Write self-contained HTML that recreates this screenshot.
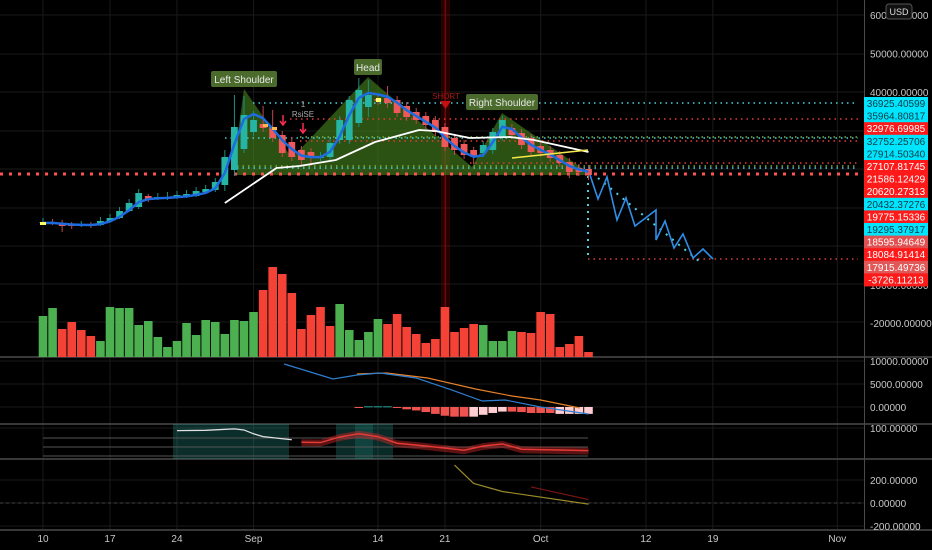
<!DOCTYPE html>
<html><head><meta charset="utf-8"><style>
html,body{margin:0;padding:0;background:#000;}
svg{display:block;font-family:"Liberation Sans",sans-serif;}
</style></head><body>
<svg id="chart" width="932" height="550" viewBox="0 0 932 550">
<rect width="932" height="550" fill="#000"/>
<g id="grid"></g>
<g id="static">
  <rect x="441" y="0" width="9" height="358" fill="rgba(180,0,0,0.22)"/>
  <line x1="445.5" y1="0" x2="445.5" y2="358" stroke="rgba(200,0,0,0.5)" stroke-width="1"/>
  <polygon points="237,170 237,140 244,89 292,158 368,77 472,167 502,113 589,173 589,175 237,175" fill="rgba(70,130,30,0.62)"/>
</g>
<g id="levels"></g>
<g id="candles"></g>
<g id="lines"></g>
<g id="vol"></g>
<g id="macd"></g>
<g id="rsi"></g>
<g id="osc"></g>
<g id="annot">
  <rect x="211" y="71" width="66" height="16" rx="2" fill="#4a6b2c"/>
  <text x="244" y="83" fill="#e8e8e8" font-size="10" text-anchor="middle">Left Shoulder</text>
  <rect x="354" y="59" width="28" height="16" rx="2" fill="#4a6b2c"/>
  <text x="368" y="71" fill="#e8e8e8" font-size="10" text-anchor="middle">Head</text>
  <rect x="466" y="94" width="72" height="16" rx="2" fill="#4a6b2c"/>
  <text x="502" y="106" fill="#e8e8e8" font-size="10" text-anchor="middle">Right Shoulder</text>
  <text x="446" y="99" fill="#a01818" font-size="8" text-anchor="middle">SHORT</text>
  <polygon points="440,101 451,101 445.5,109" fill="#c41010"/>
  <text x="303" y="107" fill="#aaa" font-size="8" text-anchor="middle">1</text>
  <text x="303" y="117" fill="#aaa" font-size="8" text-anchor="middle">RsiSE</text>
  <path d="M283,115 V124 M280,121 L283,125 L286,121" stroke="#ff2a55" stroke-width="1.5" fill="none"/>
  <path d="M303,123 V132 M300,129 L303,133 L306,129" stroke="#ff2a55" stroke-width="1.5" fill="none"/>
  <rect x="376" y="98" width="5" height="4" fill="#ffff66"/>
  <rect x="40" y="222" width="6" height="3" fill="#ffff66"/>
  <rect x="263" y="124" width="5" height="3" fill="#ffb74d"/>
  <rect x="272" y="127" width="5" height="3" fill="#ffb74d"/>
</g>
<g id="axis"></g>
<g id="xaxis"></g>
</svg>
<script>
// ---- data ----
const dates = ["10","17","24","Sep","14","21","Oct","12","19","Nov"];
const dateIdx = [0,7,14,22,35,42,52,63,70,83];
const opens = [5980,6240,5980,5460,5200,5460,5460,6500,7280,9100,10140,13000,12480,12480,12480,12740,13000,14040,14560,15860,19760,25220,29640,31720,30940,28860,27040,24960,24440,22880,23140,27560,27560,31980,36140,38220,38480,37960,36400,34840,33800,32760,30940,28080,26520,24960,24180,24960,28340,30680,29380,28080,26000,24960,23660,21840,20280,20020];
const closes = [6240,5980,5200,5200,5460,5200,6500,7280,9100,11180,13780,11960,12740,12740,13260,13520,14300,14820,16640,23140,30940,34060,32760,30680,28080,24180,23140,22360,22880,23140,26780,32760,37960,40560,39260,37700,37180,34580,33540,32760,31460,29640,25740,24960,23660,23140,26260,29640,32760,28860,26260,24440,24180,22880,21580,19240,19240,18460];
const highs = [7280,7020,6760,6240,6500,6240,7540,8320,10140,12220,14820,13520,13780,14040,14300,14560,15340,15860,17680,24960,39260,39000,35100,36400,35360,29900,28340,26000,25480,24440,27820,33800,39000,43680,43160,39260,41600,39000,37440,35880,34840,33800,31980,29120,27560,25740,27300,30680,33800,31720,30420,29120,27040,26000,24700,22880,21320,21060];
const lows = [5460,5460,3640,4420,4940,4680,5200,6240,7020,8840,9620,11440,11960,11960,12220,12480,12740,13520,14040,14300,18200,24180,28600,29640,27040,23140,22100,21060,20800,22100,22100,26520,26520,30940,33540,36660,35880,33540,32500,31720,30420,28600,24700,23660,22620,21320,23140,23920,27300,27820,25220,23400,23140,21840,20540,17680,18200,17160];
const emaVals = [5980,6000,5800,5600,5500,5450,5700,6400,7600,9300,11400,12200,12400,12500,12700,12900,13300,13800,15000,19000,26500,33000,34300,33200,30500,27500,25200,23500,23100,23100,24500,28500,34000,38500,39800,39400,38800,37300,35300,33800,32300,30800,28200,26000,24300,23200,23600,27000,31000,30400,28200,26300,25000,23800,22300,20800,19900,19300];
const smaVals = [11180,20280,20800,22360,27040,30160,29900,28080,28340,27560,24440];
const smaIdx = [19,24.4,26.8,30.6,34.7,39.3,41,44.6,48.8,51.3,57];
const volume = [41,49,28,35,27,21,16,50,49,49,32,36,20,10,16,34,22,37,35,23,37,36,45,67,90,83,64,28,42,50,31,53,27,17,25,38,33,43,30,23,14,18,50,25,29,33,32,16,16,26,25,24,45,43,10,13,21,5];
const volUp = [1,1,0,0,0,0,1,1,1,1,1,1,1,1,1,1,1,1,1,1,1,1,1,0,0,0,0,0,0,0,0,1,1,1,1,1,0,0,0,0,0,0,0,0,0,0,1,1,1,1,0,0,0,0,0,0,0,0];
const macdLine = [9350,6090,6960,7390,6300,3700,1300,1520,0,-1520];
const macdLineIdx = [25.2,30.3,32.8,35.2,39,42.7,45.9,48.3,52,57];
const macdOrange = [7170,7390,6300,3910,2390,1520,-220];
const macdOrangeIdx = [32.8,35.9,40.2,45.2,49,52,56.1];
const macdHist = [-150,150,150,150,-150,-500,-750,-1100,-1500,-1900,-2100,-2100,-2100,-1700,-1300,-1000,-1000,-1100,-1300,-1300,-1300,-1500,-1500,-1500,-1500];
const macdHistPink = [0,0,0,0,0,0,0,0,0,0,0,0,1,1,1,1,0,0,0,0,0,1,1,1,1];
const rsiWhite = [81,82,86,83,72,64,55];
const rsiWhiteIdx = [14,17,20,21,22,23,26];
const rsiRed = [48,47,63,72,64,45,37,25,37,43,28,24];
const rsiRedIdx = [27,29,31,33,35,37,40,44,46,48,50,57];
const oscYellow = [330,170,100,-10];
const oscYellowIdx = [43,45,48,57];
const oscRed = [140,30];
const oscRedIdx = [51,57];
const priceTicks = [60000,50000,40000,-20000];
const levelVals = [36925.40599,35964.80817,32976.69985,32752.25706,27914.50340,27107.81745,21586.12429,20620.27313,20432.37276,19775.15336,19295.37917,18595.94649,18084.91414,17915.49736,-3726.11213];
const levelColors = ["#00e5ff","#00e5ff","#ff1a1a","#00e5ff","#00e5ff","#ff1a1a","#ff1a1a","#ff1a1a","#00e5ff","#ff1a1a","#00e5ff","#e05050","#ff1a1a","#e05858","#ff1a1a"];

// ---- helpers / scales ----
const NS="http://www.w3.org/2000/svg";
function el(tag, attrs, parent){const e=document.createElementNS(NS,tag);for(const k in attrs)e.setAttribute(k,attrs[k]);parent.appendChild(e);return e;}
const xS = i => 43 + i*9.57;
const yP = v => 246 - v/260;
const yVol = h => 357 - h;
const yMacd = v => 407 - v*0.0046;
const yRsi = v => 459 - v*0.35;
const yOsc = v => 503 - v*0.115;

// grid
const grid=document.getElementById('grid');
dateIdx.forEach((d,i)=>{const g=el('line',{x1:xS(d),x2:xS(d),y1:0,y2:530,stroke:'#1a1a1a','stroke-width':1},grid);

});
[15,54,92,131,169,208,246,284,322,361,384,407,428,480,503,526].forEach(y=>{const g=el('line',{x1:0,x2:864,y1:y,y2:y,stroke:'#1a1a1a','stroke-width':1},grid);

});
[357,424,459,530].forEach(y=>{const g=el('line',{x1:0,x2:932,y1:y,y2:y,stroke:'#4a4a4a','stroke-width':1.5},grid);

});
{const g=el('line',{x1:864.5,x2:864.5,y1:0,y2:530,stroke:'#4a4a4a','stroke-width':1},grid);

}

// level lines
const lv=document.getElementById('levels');
const lvl=[[103,253,'#4dd0e1'],[119,290,'#e53935'],[138,225,'#4dd0e1'],[141,300,'#e53935'],[137,300,'#7cb342'],[163,470,'#e53935'],[166,237,'#7cb342'],[168,237,'#4dd0e1']];
lvl.forEach(a=>{const l=el('line',{x1:a[1],x2:858,y1:a[0],y2:a[0],stroke:a[2],'stroke-width':1.5,'stroke-dasharray':'1.5 4'},lv);

});
{const l=el('line',{x1:0,x2:858,y1:174,y2:174,stroke:'#ff5252','stroke-width':3,'stroke-dasharray':'3 6'},lv);

}
{const l=el('line',{x1:588,x2:858,y1:259,y2:259,stroke:'#e53935','stroke-width':1.5,'stroke-dasharray':'1.5 4'},lv);

}
{const l=el('line',{x1:588,x2:588,y1:176,y2:259,stroke:'#4dd0e1','stroke-width':2,'stroke-dasharray':'2 5'},lv);

}
{const l=el('line',{x1:598,x2:700,y1:178,y2:262,stroke:'#4dd0e1','stroke-width':2,'stroke-dasharray':'2 6'},lv);

}

// candles
const cg=document.getElementById('candles');
opens.forEach((o,i)=>{const c=closes[i];const up=c>=o;const col=up?'#26b5a5':'#f0595a';const x=xS(i);
const w=el('line',{x1:x,x2:x,y1:yP(highs[i]),y2:yP(lows[i]),stroke:up?'#1f8f83':'#c0484a','stroke-width':1},cg);


const t=Math.min(yP(o),yP(c));const h=Math.max(1,Math.abs(yP(o)-yP(c)));
const b=el('rect',{x:x-3.4,y:t,width:6.8,height:h,fill:col},cg);

});

// lines
const lg=document.getElementById('lines');
const emaPts=emaVals.map((v,i)=>xS(i)+','+yP(v)).join(' ');
{const p=el('polyline',{points:emaPts,fill:'none',stroke:'#1e6be0','stroke-width':2.5,'stroke-linejoin':'round'},lg);

}
{const p=el('polyline',{points:smaIdx.map((d,i)=>xS(d)+','+yP(smaVals[i])).join(' '),fill:'none',stroke:'#ffffff','stroke-width':1.8,'stroke-linejoin':'round'},lg);

}
{const p=el('line',{x1:512,y1:158,x2:588,y2:150,stroke:'#f5e94a','stroke-width':1.5},lg);

}
{const p=el('polyline',{points:'590,175 598,199 607,177 617,220 626,198 635,226 656,210 656,240 665,221 674,248 683,234 693,258 703,249 713,259',fill:'none',stroke:'#2f8fe8','stroke-width':1.6},lg);

}

// volume
const vg=document.getElementById('vol');
volume.forEach((h,i)=>{const r=el('rect',{x:xS(i)-4.3,y:yVol(h),width:8.6,height:h,fill:volUp[i]?'#4caf50':'#f44336'},vg);

});

// macd
const mg=document.getElementById('macd');
macdHist.forEach((v,i)=>{const x=xS(33+i);const y0=yMacd(0),y1=yMacd(v);
const col=v>0?'#26a69a':(macdHistPink[i]?'#ffcdd2':'#ef5350');
const r=el('rect',{x:x-4.3,y:Math.min(y0,y1),width:8.6,height:Math.max(1,Math.abs(y1-y0)),fill:col},mg);

});
{const p=el('polyline',{points:macdOrangeIdx.map((d,i)=>xS(d)+','+yMacd(macdOrange[i])).join(' '),fill:'none',stroke:'#e5822b','stroke-width':1.2},mg);

}
{const p=el('polyline',{points:macdLineIdx.map((d,i)=>xS(d)+','+yMacd(macdLine[i])).join(' '),fill:'none',stroke:'#2e7fd0','stroke-width':1.2},mg);

}

// rsi
const rg=document.getElementById('rsi');
[[173,424,116,35,'rgba(38,166,154,0.28)'],[336,424,57,35,'rgba(38,166,154,0.25)'],[355,424,18,35,'rgba(38,166,154,0.2)']].forEach(a=>{const r=el('rect',{x:a[0],y:a[1],width:a[2],height:a[3],fill:a[4]},rg);

});
[438,447,456].forEach(y=>{const l=el('line',{x1:43,x2:588,y1:y,y2:y,stroke:'#555','stroke-width':1},rg);

});
const redPts=rsiRedIdx.map((d,i)=>[xS(d),yRsi(rsiRed[i])]);
{const top=redPts.map(a=>a[0]+','+(a[1]-3)).join(' ');const bot=redPts.slice().reverse().map(a=>a[0]+','+(a[1]+4)).join(' ');
const p=el('polygon',{points:top+' '+bot,fill:'rgba(200,40,40,0.45)'},rg);

}
{const p=el('polyline',{points:redPts.map(a=>a.join(',')).join(' '),fill:'none',stroke:'#e53935','stroke-width':1.5},rg);

}
{const p=el('polyline',{points:rsiWhiteIdx.map((d,i)=>xS(d)+','+yRsi(rsiWhite[i])).join(' '),fill:'none',stroke:'#e0e0e0','stroke-width':1.3},rg);

}

// oscillator
const og=document.getElementById('osc');
{const l=el('line',{x1:0,x2:864,y1:503,y2:503,stroke:'#444','stroke-width':1,'stroke-dasharray':'3 3'},og);

}
{const p=el('polyline',{points:oscYellowIdx.map((d,i)=>xS(d)+','+yOsc(oscYellow[i])).join(' '),fill:'none',stroke:'#9a8a2a','stroke-width':1.2},og);

}
{const p=el('polyline',{points:oscRedIdx.map((d,i)=>xS(d)+','+yOsc(oscRed[i])).join(' '),fill:'none',stroke:'#7a1515','stroke-width':1.2},og);

}

// price axis
const ax=document.getElementById('axis');
priceTicks.forEach(v=>{const t=el('text',{x:870,y:yP(v)+4,fill:'#c8c8c8','font-size':10},ax);t.textContent=v.toFixed(5);

});
{const t=el('text',{x:870,y:289,fill:'#c8c8c8','font-size':10},ax);t.textContent='10000.00000';

}
[["10000.00000",361],["5000.00000",384],["0.00000",407],["100.00000",428],["200.00000",480],["0.00000",503],["-200.00000",526]].forEach(a=>{const t=el('text',{x:870,y:a[1]+4,fill:'#c8c8c8','font-size':10},ax);t.textContent=a[0];

});
levelVals.forEach((v,i)=>{const y=97+i*12.6;const cyan=levelColors[i]==='#00e5ff';
const r=el('rect',{x:864,y:y,width:64,height:13,fill:levelColors[i]},ax);


const t=el('text',{x:896,y:y+10,fill:cyan?'#0a3a40':'#fff','font-size':10,'text-anchor':'middle'},ax);t.textContent=v.toFixed(5);

});
{const r=el('rect',{x:886,y:4,width:26,height:15,rx:3,fill:'#111',stroke:'#555'},ax);


const t=el('text',{x:899,y:15,fill:'#ddd','font-size':9,'text-anchor':'middle'},ax);t.textContent='USD';

}

// time axis
const xa=document.getElementById('xaxis');
dates.forEach((d,i)=>{const t=el('text',{x:xS(dateIdx[i]),y:542,fill:'#c8c8c8','font-size':10,'text-anchor':'middle'},xa);t.textContent=d;

});
</script>
</body></html>
